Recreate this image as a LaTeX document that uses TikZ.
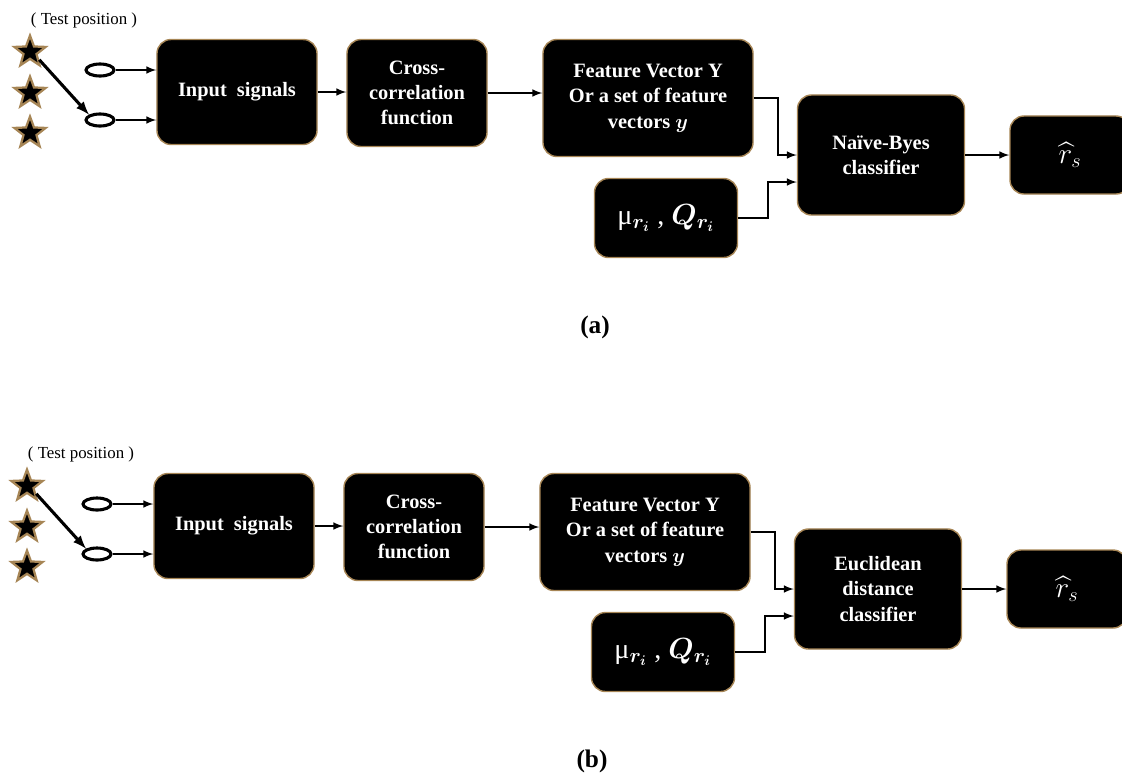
\documentclass[tikz,border=0pt]{standalone}
\usepackage{fontspec}
\usepackage{amsmath}
\setmainfont{Liberation Serif}
\usetikzlibrary{shapes.geometric}
\definecolor{gold}{RGB}{166,133,85}
\tikzset{
  blk/.style={draw=gold,line width=1pt,fill=black,rounded corners=10pt,inner sep=0pt,
    text=white,align=center,font=\bfseries\fontsize{14.5}{18}\selectfont},
  arr/.style={->,>=latex,line width=1.4pt},
  sw/.style={->,>=latex,line width=2.2pt},
  ov/.style={ellipse,draw,line width=2.2pt,fill=white,minimum width=.7cm,minimum height=.3cm,inner sep=0pt},
  stars/.style={star,star points=5,star point ratio=2.4,minimum size=.82cm,inner sep=0pt,
    fill=black,draw=gold,line width=1.6pt}
}
\begin{document}
\begin{tikzpicture}[x=.025cm,y=-.025cm]
  \useasboundingbox (0,0) rectangle (1122,777);
  \foreach \dx/\dy/\p/\cls in {0/0/a/{Naïve-Byes\\classifier},-3/434/b/{Euclidean\\distance\\classifier}}{
    \begin{scope}[shift={(\dx,\dy)}]
      \node[font=\fontsize{12}{14}\selectfont] (t\p) at (84,20) {( Test position )};
      \node[stars] (s1\p) at (30,52) {};
      \node[stars] (s2\p) at (30,93) {};
      \node[stars] (s3\p) at (30,133) {};
      \node[ov] (o1\p) at (100,70) {};
      \node[ov] (o2\p) at (100,120) {};
      \node[blk,minimum width=4cm,minimum height=2.625cm] (in\p) at (237,92) {Input~~signals};
      \node[blk,minimum width=3.5cm,minimum height=2.675cm] (cc\p) at (417,93) {Cross-\\correlation\\function};
      \node[blk,minimum width=5.25cm,minimum height=2.925cm] (fv\p) at (648,98)
        {Feature Vector Y\\Or a set of feature\\vectors $\boldsymbol{y}$};
      \node[blk,minimum width=3.575cm,minimum height=1.975cm,font=\fontsize{20}{24}\selectfont] (mu\p) at (666,218)
        {μ$_{\boldsymbol{r_i}}$ , $\boldsymbol{Q_{r_i}}$};
      \node[blk,minimum width=4.175cm,minimum height=3cm] (cl\p) at (881,155) {\cls};
      \node[blk,minimum width=3cm,minimum height=1.95cm,font=\fontsize{21}{24}\selectfont] (rs\p) at (1070,155)
        {$\widehat{r}_s$};
      \node[font=\bfseries\fontsize{18}{20}\selectfont] (lab\p) at (595,327) {(\p)};
      % switch and inputs
      \draw[sw] (s1\p.-40) -- (o2\p.north west);
      \draw[arr] (o1\p.east) -- (o1\p -| in\p.west);
      \draw[arr] (o2\p.east) -- (o2\p -| in\p.west);
      \draw[arr] (in\p.east) -- (in\p.east -| cc\p.west);
      \draw[arr] (cc\p.east) -- (cc\p.east -| fv\p.west);
      \draw[arr] (fv\p.east) -- ++(24,0) |- (cl\p.west);
      \draw[arr] (mu\p.east) -- ++(30,0) |- ([yshift=-.675cm]cl\p.west);
      \draw[arr] (cl\p.east) -- (cl\p.east -| rs\p.west);
    \end{scope}
  }
\end{tikzpicture}
\end{document}
